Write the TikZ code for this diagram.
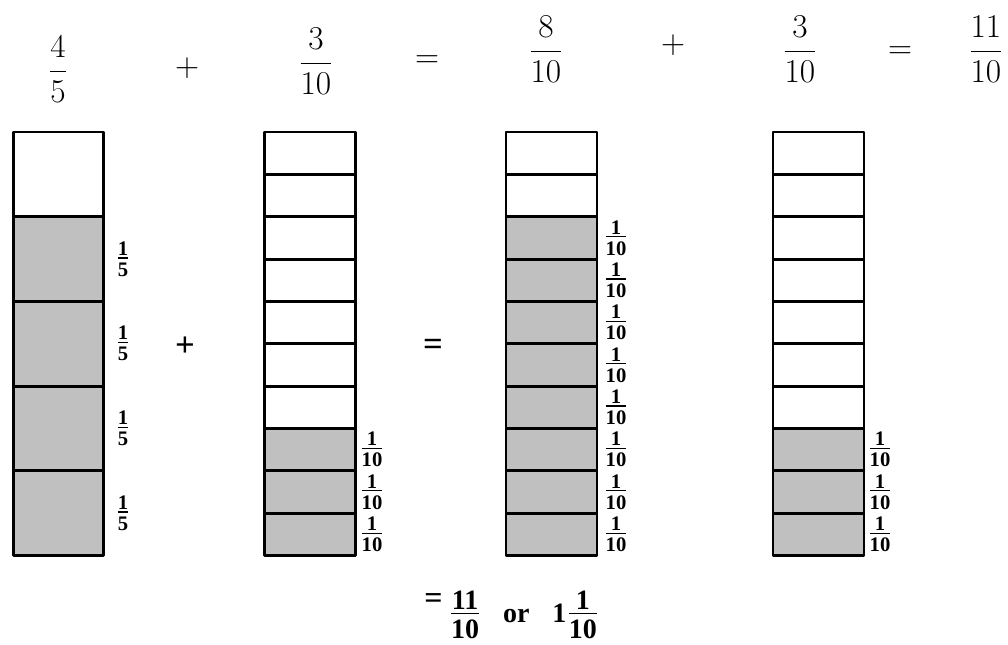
\RequirePackage{fix-cm}
\documentclass[tikz,border=0pt]{standalone}
\usepackage{fontspec}
\newfontfamily\tnr{Liberation Serif}
\definecolor{shade}{RGB}{192,192,192}
% stacked fraction for the bold labels, centred on the math axis
\newcommand\barfrac[2]{$\vcenter{\halign{\hfil##\hfil\cr #1\cr
  \noalign{\kern.1em\hrule height.06em\kern.2em}#2\cr}}$}
\begin{document}
\begin{tikzpicture}[x=.75pt,y=-.75pt,line join=round,
  part/.style={draw,line width=2.2pt},
  lbl/.style={inner sep=0pt,font=\tnr\bfseries\fontsize{15.5}{15.5}\selectfont},
  big/.style={inner sep=0pt,font=\fontsize{25}{30}\selectfont},
  op/.style={inner sep=0pt,font=\tnr\bfseries\fontsize{26}{30}\selectfont},
  res/.style={inner sep=0pt,font=\tnr\bfseries\fontsize{21}{25}\selectfont}]
\useasboundingbox (0,0) rectangle (1008,645);
\def\ytop{132} \def\ybot{555.5} \def\w{91} % Kích thước thanh
% dòng phép tính ở trên
\node[big] (f1) at (58,69) {$\displaystyle\frac{4}{5}$};
\node[big] (p1) at (187,68) {$+$};
\node[big] (f2) at (316,61) {$\displaystyle\frac{3}{10}$};
\node[big] (e1) at (427,62) {$=$};
\node[big] (f3) at (546,49) {$\displaystyle\frac{8}{10}$};
\node[big] (p2) at (673,45) {$+$};
\node[big] (f4) at (800,49) {$\displaystyle\frac{3}{10}$};
\node[big] (e2) at (900,53) {$=$};
\node[big] (f5) at (986,49) {$\displaystyle\frac{11}{10}$};
% thanh 1: năm phần, tô 4
\def\x{13.5} \def\n{5}
\pgfmathsetmacro\h{(\ybot-\ytop)/\n}
\foreach \i in {1,...,\n}{
  \ifnum\i>1
    \filldraw[part,fill=shade] (\x,\ytop+\i*\h-\h) rectangle (\x+90,\ytop+\i*\h);
    \node[lbl] (a\i) at (123,\ytop+\i*\h-\h/2) {\barfrac{1}{5}};
  \else
    \draw[part] (\x,\ytop+\i*\h-\h) rectangle (\x+90,\ytop+\i*\h);
  \fi}
% thanh 2: mười phần, tô 3
\def\x{264.5} \def\n{10}
\pgfmathsetmacro\h{(\ybot-\ytop)/\n}
\foreach \i in {1,...,\n}{
  \ifnum\i>7
    \filldraw[part,fill=shade] (\x,\ytop+\i*\h-\h) rectangle (\x+\w,\ytop+\i*\h);
    \node[lbl] (b\i) at (372,\ytop+\i*\h-\h/2) {\barfrac{1}{10}};
  \else
    \draw[part] (\x,\ytop+\i*\h-\h) rectangle (\x+\w,\ytop+\i*\h);
  \fi}
% thanh 3: mười phần, tô 8
\def\x{506}
\foreach \i in {1,...,\n}{
  \ifnum\i>2
    \filldraw[part,fill=shade] (\x,\ytop+\i*\h-\h) rectangle (\x+\w,\ytop+\i*\h);
    \node[lbl] (c\i) at (616,\ytop+\i*\h-\h/2) {\barfrac{1}{10}};
  \else
    \draw[part] (\x,\ytop+\i*\h-\h) rectangle (\x+\w,\ytop+\i*\h);
  \fi}
% thanh 4: mười phần, tô 3
\def\x{773}
\foreach \i in {1,...,\n}{
  \ifnum\i>7
    \filldraw[part,fill=shade] (\x,\ytop+\i*\h-\h) rectangle (\x+\w,\ytop+\i*\h);
    \node[lbl] (d\i) at (880,\ytop+\i*\h-\h/2) {\barfrac{1}{10}};
  \else
    \draw[part] (\x,\ytop+\i*\h-\h) rectangle (\x+\w,\ytop+\i*\h);
  \fi}
\node[op] (p3) at (185,347) {+};
\node[op] (e3) at (433,347) {=};
% kết quả
\node[res,anchor=base west] (sum) at (424,622)
  {\raisebox{10pt}{\fontsize{24}{24}\selectfont=}\hspace{6.5pt}\barfrac{11}{10}\hspace{18pt}or\hspace{17pt}1\hspace{2pt}\barfrac{1}{10}};
\end{tikzpicture}
\end{document}
